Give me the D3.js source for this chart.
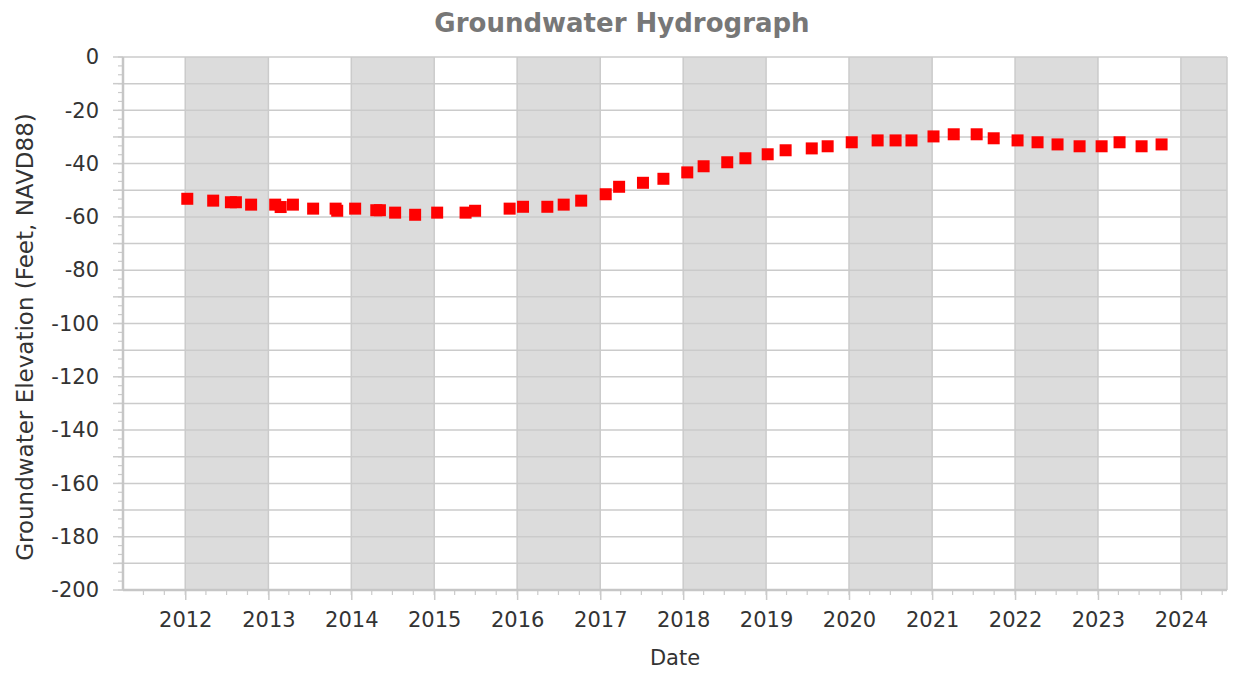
<!DOCTYPE html>
<html>
<head>
<meta charset="utf-8">
<script src="https://cdn.jsdelivr.net/npm/d3@7"></script>
<style>
  html, body { margin: 0; padding: 0; background: #fff; }
  svg { display: block; font-family: "DejaVu Sans", Verdana, sans-serif; }
</style>
</head>
<body>
<svg id="chart" width="1236" height="673"></svg>
<script>
// Measurement dates and groundwater elevations (feet, NAVD88)
const sampleDates = [
  "2012-01-10", "2012-05-03", "2012-07-20", "2012-08-11", "2012-10-17",
  "2013-01-31", "2013-02-24", "2013-04-19", "2013-07-17", "2013-10-24",
  "2013-10-31", "2014-01-18", "2014-04-21", "2014-05-07", "2014-07-13",
  "2014-10-09", "2015-01-14", "2015-05-19", "2015-06-30", "2015-11-29",
  "2016-01-27", "2016-05-13", "2016-07-24", "2016-10-09", "2017-01-25",
  "2017-03-25", "2017-07-08", "2017-10-06", "2018-01-19", "2018-04-01",
  "2018-07-14", "2018-10-02", "2019-01-08", "2019-03-28", "2019-07-21",
  "2019-09-29", "2020-01-13", "2020-05-06", "2020-07-24", "2020-10-02",
  "2021-01-07", "2021-04-06", "2021-07-16", "2021-09-29", "2022-01-12",
  "2022-04-10", "2022-07-07", "2022-10-12", "2023-01-17", "2023-04-06",
  "2023-07-12", "2023-10-08"
];
const elevations = [
  -53.2, -53.9, -54.5, -54.5, -55.4,
  -55.4, -56.3, -55.4, -56.9, -56.9,
  -57.7, -56.9, -57.5, -57.5, -58.4,
  -59.2, -58.4, -58.4, -57.7, -56.9,
  -56.2, -56.2, -55.4, -53.9, -51.5,
  -48.7, -47.2, -45.7, -43.3, -41.0,
  -39.5, -38.0, -36.5, -35.0, -34.3,
  -33.5, -32.0, -31.3, -31.3, -31.3,
  -29.8, -29.0, -29.0, -30.5, -31.3,
  -32.0, -32.8, -33.5, -33.5, -32.0,
  -33.5, -32.8
];
// Alternate years shaded in the background
const shadedYears = [2012, 2014, 2016, 2018, 2020, 2022, 2024];
const yTickValues = [0, -20, -40, -60, -80, -100, -120, -140, -160, -180, -200];

const W = 1236, H = 673;
const margin = { top: 57, right: 9, bottom: 83, left: 123 };
const iw = W - margin.left - margin.right;
const ih = H - margin.top - margin.bottom;

const parse = d3.utcParse("%Y-%m-%d");
const points = sampleDates.map((d, i) => ({ date: parse(d), value: elevations[i] }));

const x = d3.scaleUtc()
  .domain([Date.UTC(2011, 3, 2), Date.UTC(2024, 6, 22)])
  .range([0, iw]);
const y = d3.scaleLinear().domain([-200, 0]).range([ih, 0]);

const svg = d3.select("#chart");
const g = svg.append("g").attr("transform", `translate(${margin.left},${margin.top})`);

g.append("clipPath").attr("id", "plotClip")
  .append("rect").attr("width", iw).attr("height", ih);

const gridColor = "#cbcbcb";

// shaded year bands
g.append("g").attr("clip-path", "url(#plotClip)")
  .selectAll("rect").data(shadedYears).join("rect")
  .attr("x", d => x(Date.UTC(d, 0, 1)))
  .attr("width", d => x(Date.UTC(d + 1, 0, 1)) - x(Date.UTC(d, 0, 1)))
  .attr("y", 0).attr("height", ih)
  .attr("fill", "#dcdcdc");

// horizontal grid every 10 ft
const hGrid = d3.range(0, -201, -10);
g.append("g").selectAll("line").data(hGrid).join("line")
  .attr("x1", 0).attr("x2", iw)
  .attr("y1", d => y(d)).attr("y2", d => y(d))
  .attr("stroke", gridColor).attr("stroke-width", 1.5);

// vertical grid at each year
const years = x.ticks(d3.utcYear.every(1));
g.append("g").selectAll("line").data(years).join("line")
  .attr("x1", d => x(d)).attr("x2", d => x(d))
  .attr("y1", 0).attr("y2", ih)
  .attr("stroke", gridColor).attr("stroke-width", 1.5);

// right border
g.append("line").attr("x1", iw).attr("x2", iw).attr("y1", 0).attr("y2", ih)
  .attr("stroke", gridColor).attr("stroke-width", 1.5);

// y axis: minor ticks, major ticks, labels
const yMinor = d3.range(0, 61).map(i => -i * 10 / 3);
g.append("g").selectAll("line").data(yMinor).join("line")
  .attr("x1", -5).attr("x2", 0)
  .attr("y1", d => y(d)).attr("y2", d => y(d))
  .attr("stroke", gridColor).attr("stroke-width", 1.2);
g.append("g").selectAll("line").data(hGrid).join("line")
  .attr("x1", -10).attr("x2", 0)
  .attr("y1", d => y(d)).attr("y2", d => y(d))
  .attr("stroke", gridColor).attr("stroke-width", 1.5);

const yAxis = d3.axisLeft(y).tickValues(yTickValues)
  .tickFormat(d => String(d)).tickSize(0).tickPadding(24);
const yg = g.append("g").call(yAxis);
yg.select(".domain").remove();
yg.selectAll("text").attr("font-size", 21).attr("fill", "#333")
  .attr("font-family", "'DejaVu Sans', Verdana, sans-serif");

// x axis: quarterly minor ticks, yearly major ticks, labels
const quarters = x.ticks(d3.utcMonth.every(3));
g.append("g").selectAll("line").data(quarters).join("line")
  .attr("x1", d => x(d)).attr("x2", d => x(d))
  .attr("y1", ih).attr("y2", ih + 5)
  .attr("stroke", gridColor).attr("stroke-width", 1.2);

const xAxis = d3.axisBottom(x).ticks(d3.utcYear.every(1))
  .tickFormat(d3.utcFormat("%Y")).tickSize(10).tickPadding(12);
const xg = g.append("g").attr("transform", `translate(0,${ih})`).call(xAxis);
xg.select(".domain").remove();
xg.selectAll(".tick line").attr("stroke", gridColor).attr("stroke-width", 1.5);
xg.selectAll("text").attr("font-size", 21).attr("fill", "#333")
  .attr("font-family", "'DejaVu Sans', Verdana, sans-serif");

// axis lines
g.append("line").attr("x1", 0).attr("x2", 0).attr("y1", 0).attr("y2", ih)
  .attr("stroke", "#c6c6c6").attr("stroke-width", 2.5);
g.append("line").attr("x1", 0).attr("x2", iw).attr("y1", ih).attr("y2", ih)
  .attr("stroke", "#c6c6c6").attr("stroke-width", 2.5);

// data markers
const s = 12;
g.append("g").selectAll("rect").data(points).join("rect")
  .attr("x", d => x(d.date) - s / 2)
  .attr("y", d => y(d.value) - s / 2)
  .attr("width", s).attr("height", s)
  .attr("fill", "#ff0000");

// titles
svg.append("text")
  .attr("x", 622).attr("y", 32)
  .attr("text-anchor", "middle")
  .attr("font-size", 26).attr("font-weight", "bold").attr("fill", "#777")
  .text("Groundwater Hydrograph");

svg.append("text")
  .attr("x", margin.left + iw / 2).attr("y", 665)
  .attr("text-anchor", "middle")
  .attr("font-size", 21).attr("fill", "#333")
  .text("Date");

svg.append("text")
  .attr("transform", `translate(33,337) rotate(-90)`)
  .attr("text-anchor", "middle")
  .attr("font-size", 23).attr("fill", "#333")
  .text("Groundwater Elevation (Feet, NAVD88)");
</script>
</body>
</html>
